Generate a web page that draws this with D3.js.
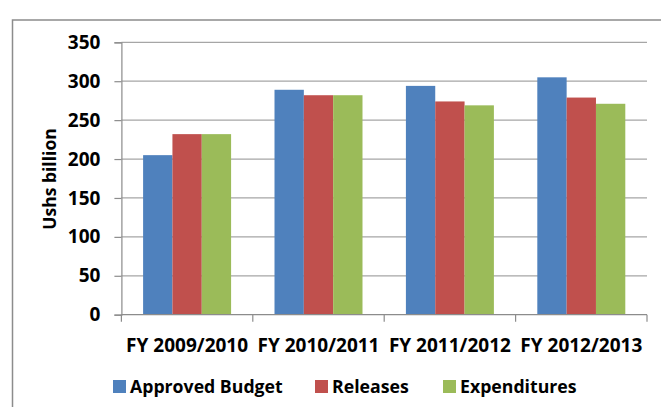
<!DOCTYPE html>
<html>
<head>
<meta charset="utf-8">
<script src="https://cdn.jsdelivr.net/npm/d3@7"></script>
<style>
  body { margin: 0; background: #fff; }
  text { font-family: 'Open Sans', sans-serif; font-weight: bold; fill: #000; }
</style>
</head>
<body>
<div id="chart"></div>
<script>
const width = 661;
const height = 407;

const categories = ['FY 2009/2010', 'FY 2010/2011', 'FY 2011/2012', 'FY 2012/2013'];
const seriesNames = ['Approved Budget', 'Releases', 'Expenditures'];
const approvedBudget = [205, 289, 294, 305];
const releases = [232, 282, 274, 279];
const expenditures = [232, 282, 269, 271];
const yTicks = [0, 50, 100, 150, 200, 250, 300, 350];
const colors = ['#4f81bd', '#c0504d', '#9bbb59'];

const seriesValues = [approvedBudget, releases, expenditures];

const margin = { top: 42.3, left: 121.4, right: 14, bottom: 92.3 };
const plotW = width - margin.left - margin.right;
const plotH = height - margin.top - margin.bottom;

const svg = d3.select('#chart').append('svg').attr('width', width).attr('height', height);

// outer chart border (runs off the right and bottom edges)
svg.append('rect')
  .attr('x', 12.5).attr('y', 20)
  .attr('width', 700).attr('height', 450)
  .attr('fill', 'none').attr('stroke', '#8c8c8c').attr('stroke-width', 1.5);

const g = svg.append('g').attr('transform', `translate(${margin.left},${margin.top})`);

const x0 = d3.scaleBand().domain(categories).range([0, plotW]);
const x1 = d3.scaleBand().domain(seriesNames).range([0, x0.bandwidth()]).paddingOuter(0.74);
const y = d3.scaleLinear().domain([0, 350]).range([plotH, 0]);

// gridlines
g.selectAll('.grid')
  .data(yTicks.filter(d => d > 0))
  .enter()
  .append('line')
  .attr('class', 'grid')
  .attr('x1', 0).attr('x2', plotW)
  .attr('y1', d => y(d)).attr('y2', d => y(d))
  .attr('stroke', '#a6a6a6').attr('stroke-width', 1.2);

// bars
const groups = g.selectAll('.group')
  .data(categories)
  .enter()
  .append('g')
  .attr('transform', d => `translate(${x0(d)},0)`);

groups.selectAll('rect')
  .data((d, i) => seriesNames.map((s, j) => ({ s, j, v: seriesValues[j][i] })))
  .enter()
  .append('rect')
  .attr('x', d => x1(d.s))
  .attr('y', d => y(d.v))
  .attr('width', x1.bandwidth())
  .attr('height', d => plotH - y(d.v))
  .attr('fill', d => colors[d.j]);

// y axis
const yAxis = g.append('g')
  .call(d3.axisLeft(y).tickValues(yTicks).tickSize(7).tickPadding(14));
yAxis.select('.domain').attr('stroke', '#8c8c8c').attr('stroke-width', 1.2);
yAxis.selectAll('.tick line').attr('stroke', '#8c8c8c').attr('stroke-width', 1.2);
yAxis.selectAll('text').attr('font-size', 19).attr('font-family', "'Open Sans', sans-serif").attr('font-weight', 'bold').attr('fill', '#000');

// x axis with ticks at category boundaries
const xAxisG = g.append('g').attr('transform', `translate(0,${plotH})`);
xAxisG.append('line')
  .attr('x1', 0).attr('x2', plotW)
  .attr('stroke', '#8c8c8c').attr('stroke-width', 1.2);
xAxisG.selectAll('.xtick')
  .data(d3.range(categories.length + 1))
  .enter()
  .append('line')
  .attr('x1', i => i * x0.step()).attr('x2', i => i * x0.step())
  .attr('y1', 0).attr('y2', 7)
  .attr('stroke', '#8c8c8c').attr('stroke-width', 1.2);
xAxisG.selectAll('.xlabel')
  .data(categories)
  .enter()
  .append('text')
  .attr('x', d => x0(d) + x0.bandwidth() / 2)
  .attr('y', 37)
  .attr('text-anchor', 'middle')
  .attr('font-size', 19)
  .text(d => d);

// y axis title
svg.append('text')
  .attr('transform', 'translate(56,179) rotate(-90)')
  .attr('text-anchor', 'middle')
  .attr('font-size', 17.5)
  .text('Ushs billion');

// legend
const legendX = [113, 315, 443];
const legend = svg.selectAll('.legend')
  .data(seriesNames)
  .enter()
  .append('g')
  .attr('transform', (d, i) => `translate(${legendX[i]},380)`);
legend.append('rect')
  .attr('width', 13).attr('height', 13)
  .attr('fill', (d, i) => colors[i]);
legend.append('text')
  .attr('x', 17).attr('y', 12.5)
  .attr('font-size', 17.7)
  .text(d => d);
</script>
</body>
</html>
